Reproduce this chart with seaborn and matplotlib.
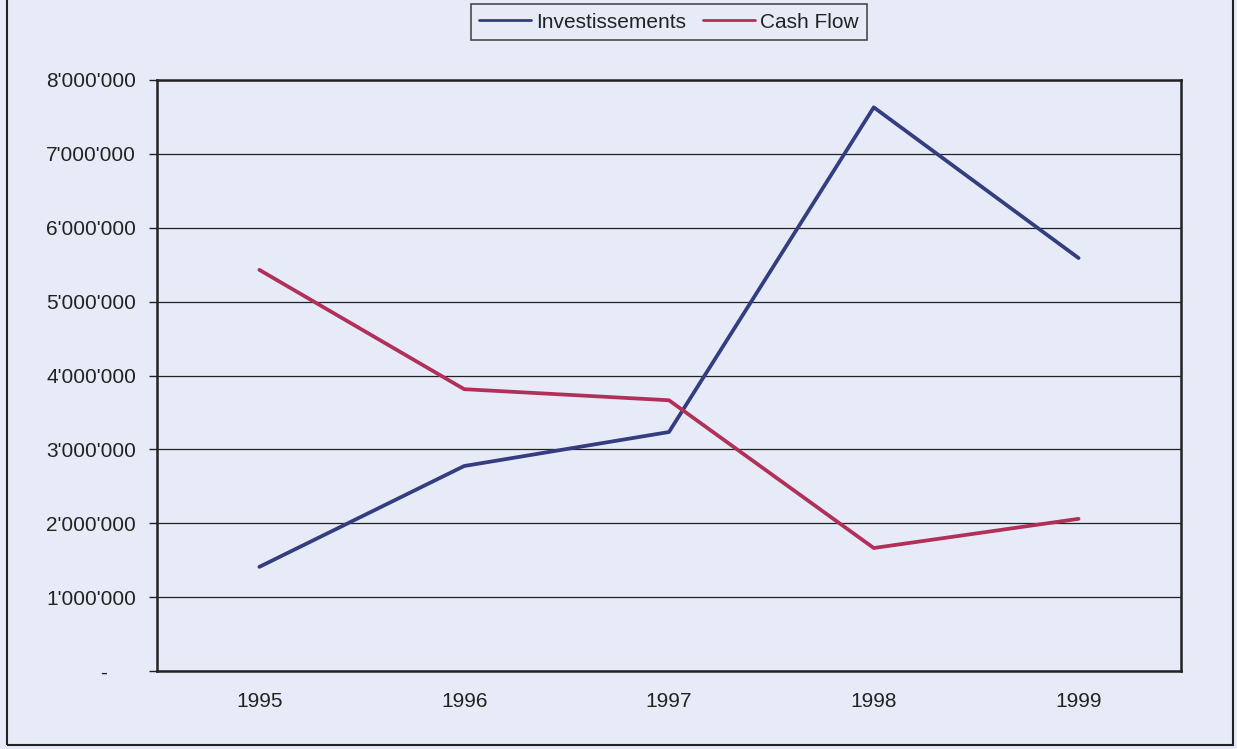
import seaborn as sns
import pandas as pd
import matplotlib.pyplot as plt
from matplotlib.patches import Rectangle
from matplotlib.ticker import FuncFormatter, FixedLocator

years = ['1995', '1996', '1997', '1998', '1999']
investissements = [1410000, 2775000, 3235000, 7630000, 5590000]
cash_flow = [5430000, 3815000, 3665000, 1665000, 2060000]
series_names = ['Investissements', 'Cash Flow']
y_ticks = [0, 1000000, 2000000, 3000000, 4000000, 5000000, 6000000, 7000000, 8000000]

df = pd.DataFrame({
    'Année': years * 2,
    'Valeur': investissements + cash_flow,
    'Série': [series_names[0]] * len(years) + [series_names[1]] * len(years),
})

bg = '#E6EBF7'
sns.set_style('white')
plt.rcParams['font.family'] = ['Liberation Sans', 'DejaVu Sans']

fig = plt.figure(figsize=(12.37, 7.49), dpi=100, facecolor=bg)
ax = fig.add_axes([0.1269, 0.1041, 0.8278, 0.7891])
ax.set_facecolor(bg)

# outer chart border
fig.patches.append(Rectangle((0.006, 0.005), 0.991, 1.2, transform=fig.transFigure,
                             fill=False, edgecolor='#222222', linewidth=1.5))

sns.lineplot(data=df, x='Année', y='Valeur', hue='Série',
             palette=['#333D80', '#B0305A'], linewidth=2.7, sort=False, ax=ax)

ax.set_ylim(0, 8000000)
ax.set_xlim(-0.5, len(years) - 0.5)
ax.set_yticks(y_ticks)
ax.yaxis.set_major_formatter(FuncFormatter(
    lambda v, p: '-     ' if v == 0 else f'{int(v):,}'.replace(',', "'")))
ax.grid(axis='y', color='#222222', linewidth=0.9)
ax.set_axisbelow(True)

# category labels centred, tick marks on category boundaries
ax.xaxis.set_minor_locator(FixedLocator([i - 0.5 for i in range(len(years) + 1)]))
ax.tick_params(axis='x', which='major', length=0, labelsize=15, colors='#222222', pad=15)
ax.tick_params(axis='x', which='minor', length=6, width=1, color='#222222', direction='out')
ax.tick_params(axis='y', length=6, width=1, labelsize=15, colors='#222222', pad=9,
               direction='out', left=True)

for s in ax.spines.values():
    s.set_visible(True)
    s.set_color('#222222')
    s.set_linewidth(1.8)

ax.set_xlabel('')
ax.set_ylabel('')

leg = ax.legend(loc='lower center', bbox_to_anchor=(0.5, 1.05), ncol=2, frameon=True,
                fontsize=15, handlelength=2.5, handletextpad=0.25, columnspacing=0.8,
                borderpad=0.4, fancybox=False, title=None)
leg.get_frame().set_edgecolor('#222222')
leg.get_frame().set_facecolor(bg)
leg.get_frame().set_linewidth(1.2)
for line in leg.get_lines():
    line.set_linewidth(2)
for t in leg.get_texts():
    t.set_color('#222222')

plt.savefig('out.png', dpi=100, facecolor=bg)
